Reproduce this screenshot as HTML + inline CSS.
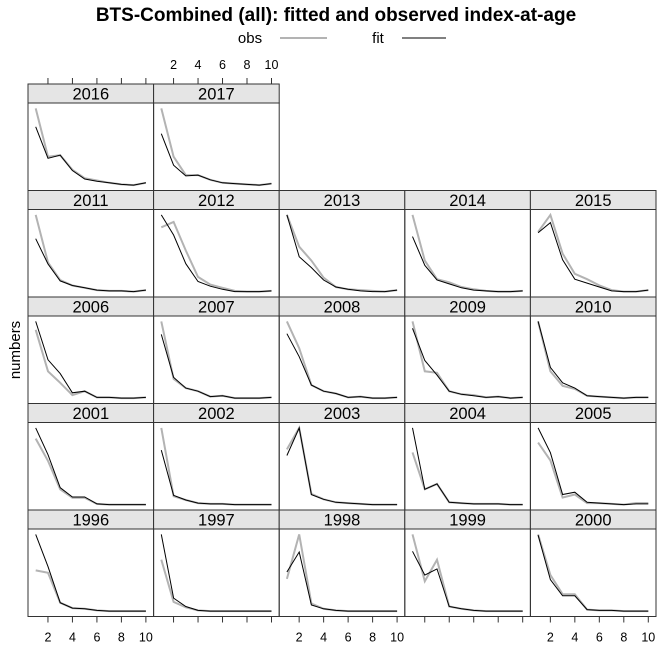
<!DOCTYPE html>
<html><head><meta charset="utf-8"><style>
html,body{margin:0;padding:0;background:#fff;}
svg{display:block;font-family:"Liberation Sans",sans-serif;}
</style></head><body>
<svg id="chart" width="672" height="672" viewBox="0 0 672 672" xmlns="http://www.w3.org/2000/svg">
<text x="336" y="21" text-anchor="middle" font-size="19" font-weight="bold">BTS-Combined (all): fitted and observed index-at-age</text>
<g>
<text x="250" y="43" text-anchor="middle" font-size="15">obs</text>
<line x1="280" y1="38" x2="327" y2="38" stroke="#b3b3b3" stroke-width="2"/>
<text x="378" y="43" text-anchor="middle" font-size="15">fit</text>
<line x1="402" y1="38" x2="446" y2="38" stroke="#000" stroke-width="1"/>
</g>
<text transform="translate(20,350) rotate(-90)" text-anchor="middle" font-size="15">numbers</text>
<g id="panels"></g>
</svg>
<script>
const years = [2016,2017,2011,2012,2013,2014,2015,2006,2007,2008,2009,2010,2001,2002,2003,2004,2005,1996,1997,1998,1999,2000];
const ages = [1,2,3,4,5,6,7,8,9,10];
const tickLabels = [2,4,6,8,10];
const obsValues = [
[100,37,39,20,9,6,3,1,0,3],
[100,37,13,13,7,3,2,1,0,2],
[100,38,15,8,5,2,1,1,0,2],
[84,91,54,20,10,6,2,1,1,2],
[100,59,41,19,7,4,3,2,1,3],
[100,41,17,13,7,4,2,1,1,2],
[78,100,50,24,17,9,3,1,1,3],
[89,35,20,4,9,1,1,0,0,1],
[100,25,13,9,2,3,0,0,0,1],
[100,65,17,9,6,1,2,0,0,1],
[100,35,33,9,5,4,1,2,0,1],
[100,35,16,12,3,2,1,0,1,1],
[86,57,20,9,9,1,0,0,0,0],
[100,11,6,2,1,1,0,0,0,0],
[72,100,14,7,3,2,1,0,0,0],
[68,20,27,3,2,1,1,1,0,0],
[80,57,9,13,2,2,1,0,2,2],
[53,50,11,4,3,1,0,0,0,0],
[67,12,5,1,0,0,0,0,0,0],
[42,100,10,3,1,0,0,0,0,0],
[100,39,67,6,3,1,0,0,0,0],
[100,47,22,22,2,1,1,0,0,0]
];
const fitValues = [
[76,35,39,19,8,5,3,1,0,3],
[67,26,12,13,7,3,2,1,0,2],
[69,36,14,8,5,2,1,1,0,2],
[100,74,37,14,8,4,1,1,1,2],
[100,46,32,16,7,4,2,1,1,3],
[72,35,16,11,6,3,2,1,1,2],
[77,90,42,17,12,7,2,1,1,3],
[100,50,32,7,9,1,1,0,0,1],
[83,27,13,9,2,3,0,0,0,1],
[84,54,17,9,6,1,2,0,0,1],
[91,49,30,9,5,3,1,2,0,1],
[100,40,20,13,3,2,1,0,1,1],
[100,65,22,10,10,1,0,0,0,0],
[71,12,6,2,1,1,0,0,0,0],
[64,100,13,7,3,2,1,0,0,0],
[100,20,27,3,2,1,1,1,0,0],
[99,67,13,16,3,2,1,0,1,1],
[100,58,11,4,3,1,0,0,0,0],
[100,17,6,1,0,0,0,0,0,0],
[51,77,8,3,1,0,0,0,0,0],
[78,47,55,6,3,1,0,0,0,0],
[99,41,20,20,2,1,1,0,0,0]
];
const NS="http://www.w3.org/2000/svg";
const root=document.getElementById('panels');
const X0=28, CW=125.6, Y0=84, RH=106.5, SH=19;
function mk(tag,attrs,parent){const e=document.createElementNS(NS,tag);for(const k in attrs)e.setAttribute(k,attrs[k]);parent.appendChild(e);return e;}
function xScale(col,a){const lo=1-0.63, hi=10+0.63;return X0+col*CW+(a-lo)/(hi-lo)*CW;}
function yScale(row,v,mn,mx){const top=Y0+row*RH+SH, h=RH-SH;const pad=(mx-mn)*0.07;return top+h-(v-(mn-pad))/((mx+pad)-(mn-pad))*h;}
years.forEach((yr,i)=>{
  let row,col;
  if(i<2){row=0;col=i;}else{row=1+Math.floor((i-2)/5);col=(i-2)%5;}
  const g=mk('g',{},root);
  
  
  const px=X0+col*CW, py=Y0+row*RH;
  const strip=mk('rect',{x:px,y:py,width:CW,height:SH,fill:'#e5e5e5',stroke:'#333','stroke-width':1},g);
  
  
  const st=mk('text',{x:px+CW/2,y:py+15.5,'text-anchor':'middle','font-size':16.5},g);
  st.textContent=yr;
  
  
  const fr=mk('rect',{x:px,y:py+SH,width:CW,height:RH-SH,fill:'none',stroke:'#333','stroke-width':1},g);
  
  
  const ov=obsValues[i], fv=fitValues[i];
  const all=ov.concat(fv);const mn=Math.min(...all), mx=Math.max(...all);
  const ptsO=ages.map((a,k)=>xScale(col,a).toFixed(1)+','+yScale(row,ov[k],mn,mx).toFixed(1)).join(' ');
  const ptsF=ages.map((a,k)=>xScale(col,a).toFixed(1)+','+yScale(row,fv[k],mn,mx).toFixed(1)).join(' ');
  const lo=mk('polyline',{points:ptsO,fill:'none',stroke:'#b3b3b3','stroke-width':2},g);
  
  
  const lf=mk('polyline',{points:ptsF,fill:'none',stroke:'#000','stroke-width':1},g);
  
  
  if(row===0){
    tickLabels.forEach(t=>{
      const x=xScale(col,t);
      const tk=mk('line',{x1:x,y1:py-6,x2:x,y2:py,stroke:'#333','stroke-width':1},g);
      
      
      if(col===1){
        const tl=mk('text',{x:x,y:py-15,'text-anchor':'middle','font-size':12.5},g);
        tl.textContent=t;
        
        
      }
    });
  }
  if(row===4){
    tickLabels.forEach(t=>{
      const x=xScale(col,t), yb=py+RH;
      const tk=mk('line',{x1:x,y1:yb,x2:x,y2:yb+6,stroke:'#333','stroke-width':1},g);
      
      
      if(col%2===0){
        const tl=mk('text',{x:x,y:yb+25,'text-anchor':'middle','font-size':12.5},g);
        tl.textContent=t;
        
        
      }
    });
  }
});
</script>
</body></html>
